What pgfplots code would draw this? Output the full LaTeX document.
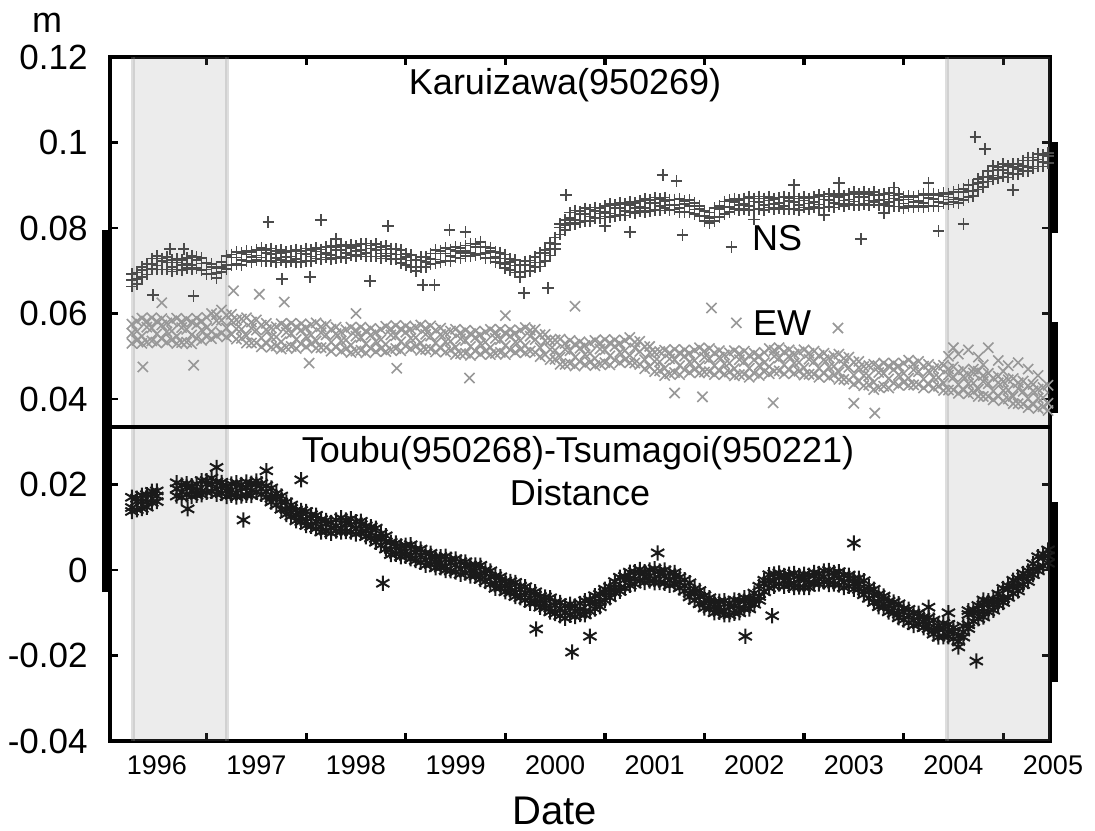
\documentclass[border=0pt]{standalone}
\usepackage{pgfplots}
\pgfplotsset{compat=1.18}
\usepackage{pgfplotstable}
\usepackage{fontspec}
\setmainfont{Liberation Sans}

\definecolor{nscol}{RGB}{75,75,75}
\definecolor{ewcol}{RGB}{152,152,152}
\definecolor{dcol}{RGB}{26,26,26}
\definecolor{shadecol}{RGB}{145,145,145}

% daily GPS solutions, thinned: x = year, n = NS, e = EW, d = distance (m)
\pgfplotstableread{
x n1 n2 n3 e1 e2 e3 d1 d2 d3
1995.75 0.0692 0.0663 0.0679 0.0575 0.0530 0.0554 0.0170 0.0137 0.0146
1995.80 0.0696 0.0669 0.0680 0.0582 0.0537 0.0558 0.0168 0.0141 0.0160
1995.85 0.0709 0.0685 0.0701 0.0589 0.0530 0.0547 0.0175 0.0144 0.0161
1995.90 0.0715 0.0691 0.0703 0.0582 0.0533 0.0568 0.0176 0.0147 0.0159
1995.95 0.0729 0.0705 0.0716 0.0590 0.0536 0.0566 0.0184 0.0158 0.0176
1996.00 0.0734 0.0703 0.0712 0.0582 0.0531 0.0552 0.0185 0.0160 0.0173
1996.05 0.0729 0.0703 0.0722 0.0588 0.0541 0.0573 nan nan nan
1996.10 0.0732 0.0703 0.0719 0.0578 0.0533 0.0557 nan nan nan
1996.15 0.0725 0.0698 0.0709 0.0583 0.0538 0.0559 nan nan nan
1996.20 0.0727 0.0703 0.0719 0.0589 0.0530 0.0547 0.0204 0.0173 0.0190
1996.25 0.0725 0.0701 0.0713 0.0581 0.0532 0.0567 0.0199 0.0170 0.0182
1996.30 0.0730 0.0706 0.0717 0.0587 0.0533 0.0563 0.0202 0.0176 0.0194
1996.35 0.0735 0.0704 0.0713 0.0580 0.0529 0.0550 0.0197 0.0172 0.0185
1996.40 0.0732 0.0706 0.0725 0.0589 0.0542 0.0574 0.0201 0.0175 0.0187
1996.45 0.0730 0.0701 0.0717 0.0582 0.0537 0.0561 0.0209 0.0176 0.0185
1996.50 0.0719 0.0692 0.0703 0.0591 0.0546 0.0567 0.0209 0.0182 0.0201
1996.55 0.0716 0.0692 0.0708 0.0600 0.0541 0.0558 0.0215 0.0184 0.0201
1996.60 0.0707 0.0683 0.0695 0.0597 0.0548 0.0583 0.0206 0.0177 0.0189
1996.65 0.0721 0.0697 0.0708 0.0608 0.0554 0.0584 0.0205 0.0179 0.0197
1996.70 0.0735 0.0704 0.0713 0.0596 0.0545 0.0566 0.0197 0.0172 0.0185
1996.75 0.0738 0.0712 0.0731 0.0598 0.0551 0.0583 0.0201 0.0175 0.0187
1996.80 0.0744 0.0715 0.0731 0.0585 0.0540 0.0564 0.0204 0.0171 0.0180
1996.85 0.0741 0.0714 0.0725 0.0587 0.0542 0.0563 0.0200 0.0173 0.0192
1996.90 0.0746 0.0722 0.0738 0.0590 0.0531 0.0548 0.0206 0.0175 0.0192
1996.95 0.0744 0.0720 0.0732 0.0580 0.0531 0.0566 0.0203 0.0174 0.0186
1997.00 0.0749 0.0725 0.0736 0.0585 0.0531 0.0561 0.0208 0.0182 0.0200
1997.05 0.0753 0.0722 0.0731 0.0573 0.0522 0.0543 0.0202 0.0177 0.0190
1997.10 0.0748 0.0722 0.0741 0.0577 0.0530 0.0562 0.0197 0.0171 0.0183
1997.15 0.0752 0.0723 0.0739 0.0566 0.0521 0.0545 0.0192 0.0159 0.0168
1997.20 0.0746 0.0719 0.0730 0.0569 0.0524 0.0545 0.0179 0.0152 0.0171
1997.25 0.0749 0.0725 0.0741 0.0576 0.0517 0.0534 0.0173 0.0142 0.0159
1997.30 0.0744 0.0720 0.0732 0.0570 0.0521 0.0556 0.0159 0.0130 0.0142
1997.35 0.0746 0.0722 0.0733 0.0577 0.0523 0.0553 0.0152 0.0126 0.0144
1997.40 0.0750 0.0719 0.0728 0.0569 0.0518 0.0539 0.0140 0.0115 0.0128
1997.45 0.0747 0.0721 0.0740 0.0576 0.0529 0.0561 0.0139 0.0113 0.0125
1997.50 0.0752 0.0723 0.0739 0.0567 0.0522 0.0546 0.0137 0.0104 0.0113
1997.55 0.0749 0.0722 0.0733 0.0574 0.0529 0.0550 0.0129 0.0102 0.0121
1997.60 0.0753 0.0729 0.0745 0.0578 0.0519 0.0536 0.0128 0.0097 0.0114
1997.65 0.0750 0.0726 0.0738 0.0569 0.0520 0.0555 0.0118 0.0089 0.0101
1997.70 0.0755 0.0731 0.0742 0.0574 0.0520 0.0550 0.0116 0.0090 0.0108
1997.75 0.0759 0.0728 0.0737 0.0563 0.0512 0.0533 0.0111 0.0086 0.0099
1997.80 0.0756 0.0730 0.0749 0.0568 0.0521 0.0553 0.0117 0.0091 0.0103
1997.85 0.0761 0.0732 0.0748 0.0557 0.0512 0.0536 0.0122 0.0089 0.0098
1997.90 0.0757 0.0730 0.0741 0.0562 0.0517 0.0538 0.0117 0.0090 0.0109
1997.95 0.0761 0.0737 0.0753 0.0568 0.0509 0.0526 0.0120 0.0089 0.0106
1998.00 0.0758 0.0734 0.0746 0.0561 0.0512 0.0547 0.0113 0.0084 0.0096
1998.05 0.0762 0.0738 0.0749 0.0568 0.0514 0.0544 0.0114 0.0088 0.0106
1998.10 0.0764 0.0733 0.0742 0.0559 0.0508 0.0529 0.0103 0.0078 0.0091
1998.15 0.0759 0.0733 0.0752 0.0565 0.0518 0.0550 0.0101 0.0075 0.0087
1998.20 0.0762 0.0733 0.0749 0.0556 0.0511 0.0535 0.0098 0.0065 0.0074
1998.25 0.0756 0.0729 0.0740 0.0563 0.0518 0.0539 0.0085 0.0058 0.0077
1998.30 0.0758 0.0734 0.0750 0.0570 0.0511 0.0528 0.0080 0.0049 0.0066
1998.35 0.0752 0.0728 0.0740 0.0564 0.0515 0.0550 0.0065 0.0036 0.0048
1998.40 0.0751 0.0727 0.0738 0.0572 0.0518 0.0548 0.0063 0.0037 0.0055
1998.45 0.0749 0.0718 0.0727 0.0564 0.0513 0.0534 0.0056 0.0031 0.0044
1998.50 0.0739 0.0713 0.0732 0.0571 0.0524 0.0556 0.0058 0.0032 0.0044
1998.55 0.0737 0.0708 0.0724 0.0563 0.0518 0.0542 0.0059 0.0026 0.0035
1998.60 0.0726 0.0699 0.0710 0.0568 0.0523 0.0544 0.0049 0.0022 0.0041
1998.65 0.0732 0.0708 0.0724 0.0573 0.0514 0.0531 0.0049 0.0018 0.0035
1998.70 0.0732 0.0708 0.0720 0.0565 0.0516 0.0551 0.0040 0.0011 0.0023
1998.75 0.0740 0.0716 0.0727 0.0571 0.0517 0.0547 0.0039 0.0013 0.0031
1998.80 0.0748 0.0717 0.0726 0.0561 0.0510 0.0531 0.0030 0.0005 0.0018
1998.85 0.0747 0.0721 0.0740 0.0566 0.0519 0.0551 0.0031 0.0005 0.0017
1998.90 0.0753 0.0724 0.0740 0.0555 0.0510 0.0534 0.0032 -0.0001 0.0008
1998.95 0.0750 0.0723 0.0734 0.0559 0.0514 0.0535 0.0025 -0.0002 0.0017
1999.00 0.0755 0.0731 0.0747 0.0563 0.0504 0.0521 0.0026 -0.0005 0.0012
1999.05 0.0753 0.0729 0.0741 0.0555 0.0506 0.0541 0.0019 -0.0010 0.0002
1999.10 0.0759 0.0735 0.0746 0.0561 0.0507 0.0537 0.0019 -0.0007 0.0011
1999.15 0.0764 0.0733 0.0742 0.0553 0.0502 0.0523 0.0011 -0.0014 -0.0001
1999.20 0.0763 0.0737 0.0756 0.0559 0.0512 0.0544 0.0012 -0.0014 -0.0002
1999.25 0.0768 0.0739 0.0755 0.0550 0.0505 0.0529 0.0011 -0.0022 -0.0013
1999.30 0.0757 0.0730 0.0741 0.0557 0.0512 0.0533 0.0000 -0.0027 -0.0008
1999.35 0.0754 0.0730 0.0746 0.0563 0.0504 0.0521 -0.0002 -0.0033 -0.0016
1999.40 0.0744 0.0720 0.0732 0.0556 0.0507 0.0542 -0.0014 -0.0043 -0.0031
1999.45 0.0742 0.0718 0.0729 0.0563 0.0509 0.0539 -0.0016 -0.0042 -0.0024
1999.50 0.0738 0.0707 0.0716 0.0555 0.0504 0.0525 -0.0026 -0.0051 -0.0038
1999.55 0.0727 0.0701 0.0720 0.0562 0.0515 0.0547 -0.0027 -0.0053 -0.0041
1999.60 0.0725 0.0696 0.0712 0.0554 0.0509 0.0533 -0.0029 -0.0062 -0.0053
1999.65 0.0713 0.0686 0.0697 0.0561 0.0516 0.0537 -0.0038 -0.0065 -0.0046
1999.70 0.0722 0.0698 0.0714 0.0567 0.0508 0.0525 -0.0039 -0.0070 -0.0053
1999.75 0.0724 0.0700 0.0712 0.0561 0.0512 0.0547 -0.0049 -0.0078 -0.0066
1999.80 0.0732 0.0708 0.0719 0.0563 0.0509 0.0539 -0.0051 -0.0077 -0.0059
1999.85 0.0741 0.0710 0.0719 0.0550 0.0499 0.0520 -0.0062 -0.0087 -0.0074
1999.90 0.0749 0.0723 0.0742 0.0551 0.0504 0.0536 -0.0063 -0.0089 -0.0077
1999.95 0.0765 0.0736 0.0752 0.0537 0.0492 0.0516 -0.0065 -0.0098 -0.0089
2000.00 0.0778 0.0751 0.0762 0.0538 0.0493 0.0514 -0.0075 -0.0102 -0.0083
2000.05 0.0809 0.0785 0.0801 0.0540 0.0481 0.0498 -0.0076 -0.0107 -0.0090
2000.10 0.0819 0.0795 0.0807 0.0530 0.0481 0.0516 -0.0084 -0.0113 -0.0101
2000.15 0.0836 0.0812 0.0823 0.0537 0.0483 0.0513 -0.0080 -0.0106 -0.0088
2000.20 0.0841 0.0810 0.0819 0.0528 0.0477 0.0498 -0.0084 -0.0109 -0.0096
2000.25 0.0839 0.0813 0.0832 0.0534 0.0487 0.0519 -0.0078 -0.0104 -0.0092
2000.30 0.0846 0.0817 0.0833 0.0525 0.0480 0.0504 -0.0072 -0.0105 -0.0096
2000.35 0.0843 0.0816 0.0827 0.0531 0.0486 0.0507 -0.0070 -0.0097 -0.0078
2000.40 0.0848 0.0824 0.0840 0.0537 0.0478 0.0495 -0.0060 -0.0091 -0.0074
2000.45 0.0846 0.0822 0.0834 0.0531 0.0482 0.0517 -0.0057 -0.0086 -0.0074
2000.50 0.0851 0.0827 0.0838 0.0539 0.0485 0.0515 -0.0045 -0.0071 -0.0053
2000.55 0.0856 0.0825 0.0834 0.0531 0.0480 0.0501 -0.0040 -0.0065 -0.0052
2000.60 0.0854 0.0828 0.0847 0.0538 0.0491 0.0523 -0.0027 -0.0053 -0.0041
2000.65 0.0859 0.0830 0.0846 0.0530 0.0485 0.0509 -0.0017 -0.0050 -0.0041
2000.70 0.0856 0.0829 0.0840 0.0537 0.0492 0.0513 -0.0015 -0.0042 -0.0023
2000.75 0.0861 0.0837 0.0853 0.0544 0.0485 0.0502 -0.0005 -0.0036 -0.0019
2000.80 0.0859 0.0835 0.0847 0.0533 0.0484 0.0519 -0.0004 -0.0033 -0.0021
2000.85 0.0863 0.0839 0.0850 0.0535 0.0481 0.0511 0.0001 -0.0025 -0.0007
2000.90 0.0868 0.0837 0.0846 0.0522 0.0471 0.0492 -0.0004 -0.0029 -0.0016
2000.95 0.0866 0.0840 0.0859 0.0523 0.0476 0.0508 0.0000 -0.0026 -0.0014
2001.00 0.0871 0.0842 0.0858 0.0509 0.0464 0.0488 0.0003 -0.0030 -0.0021
2001.05 0.0868 0.0841 0.0852 0.0511 0.0466 0.0487 -0.0002 -0.0029 -0.0010
2001.10 0.0871 0.0847 0.0863 0.0514 0.0455 0.0472 0.0000 -0.0031 -0.0014
2001.15 0.0866 0.0842 0.0854 0.0508 0.0459 0.0494 -0.0007 -0.0036 -0.0024
2001.20 0.0867 0.0843 0.0854 0.0516 0.0462 0.0492 -0.0006 -0.0032 -0.0014
2001.25 0.0868 0.0837 0.0846 0.0508 0.0457 0.0478 -0.0017 -0.0042 -0.0029
2001.30 0.0863 0.0837 0.0856 0.0515 0.0468 0.0500 -0.0023 -0.0049 -0.0037
2001.35 0.0865 0.0836 0.0852 0.0507 0.0462 0.0486 -0.0030 -0.0063 -0.0054
2001.40 0.0859 0.0832 0.0843 0.0514 0.0469 0.0490 -0.0044 -0.0071 -0.0052
2001.45 0.0852 0.0828 0.0844 0.0520 0.0461 0.0478 -0.0048 -0.0079 -0.0062
2001.50 0.0840 0.0816 0.0828 0.0512 0.0463 0.0498 -0.0060 -0.0089 -0.0077
2001.55 0.0836 0.0812 0.0823 0.0518 0.0464 0.0494 -0.0065 -0.0091 -0.0073
2001.60 0.0847 0.0816 0.0825 0.0508 0.0457 0.0478 -0.0075 -0.0100 -0.0087
2001.65 0.0851 0.0825 0.0844 0.0513 0.0466 0.0498 -0.0073 -0.0099 -0.0087
2001.70 0.0862 0.0833 0.0849 0.0503 0.0458 0.0482 -0.0072 -0.0105 -0.0096
2001.75 0.0865 0.0838 0.0849 0.0508 0.0463 0.0484 -0.0078 -0.0105 -0.0086
2001.80 0.0869 0.0845 0.0861 0.0513 0.0454 0.0471 -0.0070 -0.0101 -0.0084
2001.85 0.0865 0.0841 0.0853 0.0506 0.0457 0.0492 -0.0071 -0.0100 -0.0088
2001.90 0.0869 0.0845 0.0856 0.0512 0.0458 0.0488 -0.0065 -0.0091 -0.0073
2001.95 0.0873 0.0842 0.0851 0.0502 0.0451 0.0472 -0.0066 -0.0091 -0.0078
2002.00 0.0869 0.0843 0.0862 0.0507 0.0460 0.0492 -0.0054 -0.0080 -0.0068
2002.05 0.0874 0.0845 0.0861 0.0500 0.0455 0.0479 -0.0038 -0.0071 -0.0062
2002.10 0.0869 0.0842 0.0853 0.0509 0.0464 0.0485 -0.0024 -0.0051 -0.0032
2002.15 0.0872 0.0848 0.0864 0.0518 0.0459 0.0476 -0.0011 -0.0042 -0.0025
2002.20 0.0868 0.0844 0.0856 0.0514 0.0465 0.0500 -0.0009 -0.0038 -0.0026
2002.25 0.0871 0.0847 0.0858 0.0520 0.0466 0.0496 -0.0007 -0.0033 -0.0015
2002.30 0.0874 0.0843 0.0852 0.0510 0.0459 0.0480 -0.0013 -0.0038 -0.0025
2002.35 0.0870 0.0844 0.0863 0.0515 0.0468 0.0500 -0.0010 -0.0036 -0.0024
2002.40 0.0874 0.0845 0.0861 0.0505 0.0460 0.0484 -0.0008 -0.0041 -0.0032
2002.45 0.0869 0.0842 0.0853 0.0510 0.0465 0.0486 -0.0013 -0.0040 -0.0021
2002.50 0.0872 0.0848 0.0864 0.0515 0.0456 0.0473 -0.0010 -0.0041 -0.0024
2002.55 0.0869 0.0845 0.0857 0.0507 0.0458 0.0493 -0.0012 -0.0041 -0.0029
2002.60 0.0873 0.0849 0.0860 0.0512 0.0458 0.0488 -0.0006 -0.0032 -0.0014
2002.65 0.0877 0.0846 0.0855 0.0502 0.0451 0.0472 -0.0008 -0.0033 -0.0020
2002.70 0.0874 0.0848 0.0867 0.0507 0.0460 0.0492 -0.0002 -0.0028 -0.0016
2002.75 0.0879 0.0850 0.0866 0.0496 0.0451 0.0475 -0.0001 -0.0034 -0.0025
2002.80 0.0875 0.0848 0.0859 0.0501 0.0456 0.0477 -0.0006 -0.0033 -0.0014
2002.85 0.0880 0.0856 0.0872 0.0505 0.0446 0.0463 -0.0004 -0.0035 -0.0018
2002.90 0.0876 0.0852 0.0864 0.0495 0.0446 0.0481 -0.0012 -0.0041 -0.0029
2002.95 0.0880 0.0856 0.0867 0.0498 0.0444 0.0474 -0.0012 -0.0038 -0.0020
2003.00 0.0884 0.0853 0.0862 0.0486 0.0435 0.0456 -0.0020 -0.0045 -0.0032
2003.05 0.0880 0.0854 0.0873 0.0488 0.0441 0.0473 -0.0019 -0.0045 -0.0033
2003.10 0.0885 0.0856 0.0872 0.0476 0.0431 0.0455 -0.0025 -0.0058 -0.0049
2003.15 0.0880 0.0853 0.0864 0.0478 0.0433 0.0454 -0.0039 -0.0066 -0.0047
2003.20 0.0884 0.0860 0.0876 0.0481 0.0422 0.0439 -0.0045 -0.0076 -0.0059
2003.25 0.0878 0.0854 0.0866 0.0476 0.0427 0.0462 -0.0057 -0.0086 -0.0074
2003.30 0.0880 0.0856 0.0867 0.0484 0.0430 0.0460 -0.0061 -0.0087 -0.0069
2003.35 0.0882 0.0851 0.0860 0.0477 0.0426 0.0447 -0.0073 -0.0098 -0.0085
2003.40 0.0876 0.0850 0.0869 0.0484 0.0437 0.0469 -0.0075 -0.0101 -0.0089
2003.45 0.0879 0.0850 0.0866 0.0477 0.0432 0.0456 -0.0079 -0.0112 -0.0103
2003.50 0.0873 0.0846 0.0857 0.0484 0.0439 0.0460 -0.0090 -0.0117 -0.0098
2003.55 0.0875 0.0851 0.0867 0.0491 0.0432 0.0449 -0.0092 -0.0123 -0.0106
2003.60 0.0872 0.0848 0.0860 0.0482 0.0433 0.0468 -0.0101 -0.0130 -0.0118
2003.65 0.0876 0.0852 0.0863 0.0488 0.0434 0.0464 -0.0101 -0.0127 -0.0109
2003.70 0.0880 0.0849 0.0858 0.0477 0.0426 0.0447 -0.0110 -0.0135 -0.0122
2003.75 0.0877 0.0851 0.0870 0.0481 0.0434 0.0466 -0.0111 -0.0137 -0.0125
2003.80 0.0881 0.0852 0.0868 0.0471 0.0426 0.0450 -0.0117 -0.0150 -0.0141
2003.85 0.0877 0.0850 0.0861 0.0475 0.0430 0.0451 -0.0130 -0.0157 -0.0138
2003.90 0.0882 0.0858 0.0874 0.0479 0.0420 0.0437 -0.0125 -0.0156 -0.0139
2003.95 0.0879 0.0855 0.0867 0.0470 0.0421 0.0456 -0.0127 -0.0156 -0.0144
2004.00 0.0884 0.0860 0.0871 0.0475 0.0421 0.0451 -0.0135 -0.0161 -0.0143
2004.05 0.0890 0.0859 0.0868 0.0464 0.0413 0.0434 -0.0155 -0.0180 -0.0167
2004.10 0.0891 0.0865 0.0884 0.0468 0.0421 0.0453 -0.0131 -0.0157 -0.0145
2004.15 0.0901 0.0872 0.0888 0.0457 0.0412 0.0436 -0.0104 -0.0137 -0.0128
2004.20 0.0902 0.0875 0.0886 0.0461 0.0416 0.0437 -0.0093 -0.0120 -0.0101
2004.25 0.0914 0.0890 0.0906 0.0465 0.0406 0.0423 -0.0083 -0.0114 -0.0097
2004.30 0.0920 0.0896 0.0908 0.0455 0.0406 0.0441 -0.0081 -0.0110 -0.0098
2004.35 0.0933 0.0909 0.0920 0.0460 0.0406 0.0436 -0.0072 -0.0098 -0.0080
2004.40 0.0945 0.0914 0.0923 0.0449 0.0398 0.0419 -0.0069 -0.0094 -0.0081
2004.45 0.0943 0.0917 0.0936 0.0453 0.0406 0.0438 -0.0056 -0.0082 -0.0070
2004.50 0.0949 0.0920 0.0936 0.0441 0.0396 0.0420 -0.0043 -0.0076 -0.0067
2004.55 0.0945 0.0918 0.0929 0.0445 0.0400 0.0421 -0.0037 -0.0064 -0.0045
2004.60 0.0950 0.0926 0.0942 0.0448 0.0389 0.0406 -0.0024 -0.0055 -0.0038
2004.65 0.0950 0.0926 0.0938 0.0438 0.0389 0.0424 -0.0020 -0.0049 -0.0037
2004.70 0.0958 0.0934 0.0945 0.0442 0.0388 0.0418 -0.0008 -0.0034 -0.0016
2004.75 0.0965 0.0934 0.0943 0.0431 0.0380 0.0401 -0.0002 -0.0027 -0.0014
2004.80 0.0965 0.0939 0.0958 0.0434 0.0387 0.0419 0.0015 -0.0011 0.0001
2004.85 0.0973 0.0944 0.0960 0.0423 0.0378 0.0402 0.0031 -0.0002 0.0007
2004.90 0.0971 0.0944 0.0955 0.0427 0.0382 0.0403 0.0037 0.0010 0.0029
2004.95 0.0976 0.0952 0.0968 0.0432 0.0373 0.0390 0.0047 0.0016 0.0033
}\gps

\begin{document}
\begin{tikzpicture}
\path[use as bounding box] (-55pt,-44.5pt) rectangle (492.5pt,370.5pt);
\begin{axis}[
    width=470pt, height=342pt, scale only axis,
    xmin=1995.53, xmax=2004.97, ymin=-0.04, ymax=0.12,
    clip=false,
    axis line style={line width=2.2pt},
    tick align=inside,
    xtick={1996,1997,1998,1999,2000,2001,2002,2003,2004},
    xticklabels={1996,1997,1998,1999,2000,2001,2002,2003,2004},
    minor xtick={1996.5,1997.5,1998.5,1999.5,2000.5,2001.5,2002.5,2003.5,2004.5},
    major x tick style={draw=none},
    minor x tick style={line width=1.6pt, black},
    minor tick length=4pt,
    ytick={-0.04,-0.02,0,0.02,0.04,0.06,0.08,0.1,0.12},
    yticklabels={-0.04,-0.02,0,0.02,0.04,0.06,0.08,0.1,0.12},
    major y tick style={line width=1.2pt, black},
    major tick length=4pt,
    xticklabel style={font=\fontsize{13.5}{16}\selectfont, anchor=north, inner sep=0pt, yshift=-7pt},
    yticklabel style={font=\fontsize{17.5}{20}\selectfont, anchor=east, inner sep=0pt, xshift=-11pt},
    ewmark/.style={ewcol, only marks, mark=x, mark size=3.6pt, mark options={line width=0.8pt}},
    nsmark/.style={nscol, only marks, mark=+, mark size=2.9pt, mark options={line width=0.85pt}},
    dmark/.style={dcol, only marks, mark=asterisk, mark size=3.8pt, mark options={line width=1pt}},
  ]
  % EW
  \addplot[ewmark] table[x=x, y=e1] {\gps};
  \addplot[ewmark] table[x=x, y=e2] {\gps};
  \addplot[ewmark] table[x=x, y=e3] {\gps};
  \addplot[ewmark] coordinates {
    (1995.86,0.0475) (1996.37,0.0479) (1996.77,0.0653) (1997.03,0.0645) (1997.28,0.0627)
    (1997.53,0.0484) (1998.41,0.0472) (2000.20,0.0617) (2001.57,0.0613) (2001.82,0.0578)
    (2001.20,0.0414) (2001.48,0.0405) (1999.14,0.0449) (2002.84,0.0566) (2003.21,0.0367)
    (2002.19,0.0391) (1996.05,0.0625) (1998.00,0.0600) (1999.50,0.0595) (2003.00,0.0390)
    (2004.05,0.0505) (2004.15,0.0515) (2004.25,0.0498) (2004.35,0.0520) (2004.45,0.0490)
    (2004.55,0.0478) (2004.65,0.0485) (2004.75,0.0470) (2004.85,0.0455) (2004.00,0.0520)
    (2003.95,0.0500) (2004.30,0.0480) (2004.50,0.0465) (2004.20,0.0470)
  };
  % NS
  \addplot[nsmark] table[x=x, y=n1] {\gps};
  \addplot[nsmark] table[x=x, y=n2] {\gps};
  \addplot[nsmark] table[x=x, y=n3] {\gps};
  \addplot[nsmark] coordinates {
    (1997.12,0.0814) (1997.65,0.0819) (1998.32,0.0805) (1996.13,0.0751) (1996.27,0.0751)
    (1996.37,0.0641) (1997.26,0.0681) (1997.54,0.0685) (1998.14,0.0676) (1998.67,0.0667)
    (1995.96,0.0643) (2001.08,0.0924) (2001.22,0.0910) (2000.11,0.0877) (1998.94,0.0795)
    (1998.79,0.0667) (1999.69,0.0648) (1999.93,0.0660) (2000.75,0.0791) (2001.28,0.0784)
    (2001.77,0.0756) (2003.07,0.0774) (2003.85,0.0793) (2002.85,0.0905) (2003.75,0.0905)
    (2004.60,0.0889) (2004.22,0.1013) (2004.32,0.0985) (2004.10,0.0810) (2002.40,0.0900)
    (2003.40,0.0895) (1999.10,0.0790) (1997.80,0.0775) (2000.50,0.0805) (2002.00,0.0820)
    (2002.70,0.0830) (2003.30,0.0835)
  };
  % distance
  \addplot[dmark] table[x=x, y=d1] {\gps};
  \addplot[dmark] table[x=x, y=d2] {\gps};
  \addplot[dmark] table[x=x, y=d3] {\gps};
  \addplot[dmark] coordinates {
    (1997.45,0.0211) (1996.87,0.0117) (1998.27,-0.0031) (1996.31,0.0143) (2000.17,-0.0192)
    (2001.03,0.0040) (2000.35,-0.0155) (1999.81,-0.0138) (2001.91,-0.0155) (2003.00,0.0063)
    (2004.23,-0.0213) (2002.18,-0.0107) (2003.75,-0.0087) (1996.60,0.0240) (1997.10,0.0232)
    (2003.95,-0.0100) (2004.15,-0.0095) (2004.30,-0.0070)
  };

  % shaded periods, laid over the data
  \fill[shadecol, fill opacity=0.17] (axis cs:1995.76,-0.04) rectangle (axis cs:1996.70,0.12);
  \fill[shadecol, fill opacity=0.17] (axis cs:2003.94,-0.04) rectangle (axis cs:2004.97,0.12);
  \draw[shadecol, draw opacity=0.3, line width=2pt] (axis cs:1995.76,-0.04) -- (axis cs:1995.76,0.12);
  \draw[shadecol, draw opacity=0.3, line width=2pt] (axis cs:1996.70,-0.04) -- (axis cs:1996.70,0.12);
  \draw[shadecol, draw opacity=0.3, line width=2pt] (axis cs:2003.94,-0.04) -- (axis cs:2003.94,0.12);

  % panel separator
  \draw[line width=2pt, black] (axis cs:1995.53,0.0335) -- (axis cs:2004.97,0.0335);

  % heavy frame pieces
  \draw[line width=3.5pt] ([xshift=-2pt]axis cs:1995.53,-0.0052) -- ([xshift=-2pt]axis cs:1995.53,0.0795);
  \draw[line width=3.5pt] ([xshift=2pt]axis cs:2004.97,0.0788) -- ([xshift=2pt]axis cs:2004.97,0.1000);
  \draw[line width=3.5pt] ([xshift=2pt]axis cs:2004.97,0.0367) -- ([xshift=2pt]axis cs:2004.97,0.0580);
  \draw[line width=3.5pt] ([xshift=2pt]axis cs:2004.97,-0.0262) -- ([xshift=2pt]axis cs:2004.97,0.0159);

  \node[font=\fontsize{18}{21}\selectfont] at (axis cs:2000.10,0.1134) {Karuizawa(950269)};
  \node[font=\fontsize{18}{21}\selectfont] at (axis cs:2002.23,0.0777) {NS};
  \node[font=\fontsize{18}{21}\selectfont] at (axis cs:2002.28,0.0578) {EW};
  \node[font=\fontsize{18}{21}\selectfont] at (axis cs:2000.23,0.0273) {Toubu(950268)-Tsumagoi(950221)};
  \node[font=\fontsize{18}{21}\selectfont] at (axis cs:2000.25,0.0180) {Distance};

  % last year label sits on the right edge of the frame
  \node[font=\fontsize{13.5}{16}\selectfont, anchor=north, inner sep=0pt, yshift=-7pt] at (axis cs:2005.0,-0.04) {2005};

  \node[font=\fontsize{18}{21}\selectfont] at (rel axis cs:-0.067,1.0497) {m};
  \node[font=\fontsize{20}{24}\selectfont, yshift=-35pt] at (rel axis cs:0.4729,0) {Date};
\end{axis}
\end{tikzpicture}
\end{document}
